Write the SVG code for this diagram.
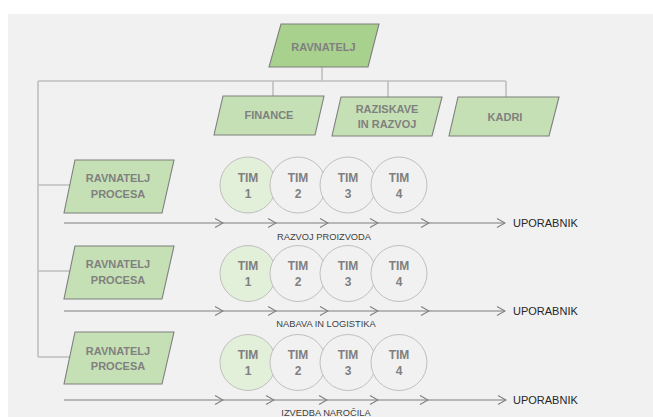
<svg xmlns="http://www.w3.org/2000/svg" width="653" height="417" viewBox="0 0 653 417">
  <defs>
    <marker id="chev" viewBox="0 0 10 10" refX="9" refY="5" markerWidth="10" markerHeight="10" markerUnits="userSpaceOnUse" orient="auto">
      <path d="M1,0.5 L9,5 L1,9.5" fill="none" stroke="#7f7f7f" stroke-width="1.1"/>
    </marker>
    <style>
      .org { fill: none; stroke: #bfbfbf; stroke-width: 1.6; }
      .flow { stroke: #7f7f7f; stroke-width: 1.1; marker-end: url(#chev); }
      .head { fill: #a9d18e; stroke: #7f7f7f; stroke-width: 1.1; }
      .dept { fill: #c5e0b4; stroke: #7f7f7f; stroke-width: 1.1; }
      .lbl { font-family: "Liberation Sans", Arial, sans-serif; font-weight: bold; font-size: 11px; fill: #808080; text-anchor: middle; }
      .tim { fill: #f1f1f1; stroke: #bfbfbf; stroke-width: 1; }
      .tim1 { fill: #e2efd9; stroke: #bfbfbf; stroke-width: 1; }
      .timtxt { font-family: "Liberation Sans", Arial, sans-serif; font-weight: bold; font-size: 12px; fill: #808080; text-anchor: middle; }
      .user { font-family: "Liberation Sans", Arial, sans-serif; font-size: 11px; fill: #262626; }
      .proc { font-family: "Liberation Sans", Arial, sans-serif; font-size: 9.3px; fill: #404040; text-anchor: middle; }
    </style>
  </defs>

  <!-- canvas -->
  <rect x="8" y="14" width="645" height="403" fill="#f1f1f1"/>

  <!-- connectors -->
  <g id="connectors">
    <path class="org" d="M322,67 V81 M38,81 H506 M273,81 V96 M388,81 V97 M506,81 V97"/>
    <path class="org" d="M38,81 V357 M38,185 H70 M38,271 H70 M38,357 H70"/>
    <g id="flow1">
      <line class="flow" x1="64" y1="223" x2="223" y2="223"/>
      <line class="flow" x1="223" y1="223" x2="276" y2="223"/>
      <line class="flow" x1="276" y1="223" x2="328" y2="223"/>
      <line class="flow" x1="328" y1="223" x2="378" y2="223"/>
      <line class="flow" x1="378" y1="223" x2="429" y2="223"/>
      <line class="flow" x1="429" y1="223" x2="505" y2="223"/>
    </g>
    <g id="flow2">
      <line class="flow" x1="64" y1="311" x2="223" y2="311"/>
      <line class="flow" x1="223" y1="311" x2="276" y2="311"/>
      <line class="flow" x1="276" y1="311" x2="328" y2="311"/>
      <line class="flow" x1="328" y1="311" x2="378" y2="311"/>
      <line class="flow" x1="378" y1="311" x2="429" y2="311"/>
      <line class="flow" x1="429" y1="311" x2="505" y2="311"/>
    </g>
    <g id="flow3">
      <line class="flow" x1="64" y1="400" x2="223" y2="400"/>
      <line class="flow" x1="223" y1="400" x2="274" y2="400"/>
      <line class="flow" x1="274" y1="400" x2="327" y2="400"/>
      <line class="flow" x1="327" y1="400" x2="378" y2="400"/>
      <line class="flow" x1="378" y1="400" x2="428" y2="400"/>
      <line class="flow" x1="428" y1="400" x2="506" y2="400"/>
    </g>
  </g>

  <!-- management -->
  <g id="ravnatelj">
    <polygon class="head" points="281,24 379,24 368,67 269,67"/>
    <text class="lbl" x="323.5" y="51" font-size="11.5">RAVNATELJ</text>
  </g>
  <g id="finance">
    <polygon class="dept" points="223,96 324,96 315,135 214,135"/>
    <text class="lbl" x="269" y="119">FINANCE</text>
  </g>
  <g id="raziskave">
    <polygon class="dept" points="341,97 442,97 432,136 332,136"/>
    <text class="lbl" x="387" y="113">RAZISKAVE</text>
    <text class="lbl" x="387" y="128">IN RAZVOJ</text>
  </g>
  <g id="kadri">
    <polygon class="dept" points="458,97 559,97 549,136 449,136"/>
    <text class="lbl" x="505" y="121">KADRI</text>
  </g>

  <!-- process row 1 -->
  <g id="proces1">
    <polygon class="dept" points="75,160 174,160 162,213 64,213"/>
    <text class="lbl" x="118" y="182">RAVNATELJ</text>
    <text class="lbl" x="118" y="198">PROCESA</text>
  </g>
  <g id="row1-tim1"><circle class="tim1" cx="248" cy="185" r="28"/><text class="timtxt" x="248" y="182">TIM</text><text class="timtxt" x="248" y="198">1</text></g>
  <g id="row1-tim2"><circle class="tim" cx="298" cy="185" r="28"/><text class="timtxt" x="298" y="182">TIM</text><text class="timtxt" x="298" y="198">2</text></g>
  <g id="row1-tim3"><circle class="tim" cx="348" cy="185" r="28"/><text class="timtxt" x="348" y="182">TIM</text><text class="timtxt" x="348" y="198">3</text></g>
  <g id="row1-tim4"><circle class="tim" cx="399" cy="185" r="28"/><text class="timtxt" x="399" y="182">TIM</text><text class="timtxt" x="399" y="198">4</text></g>
  <g id="row1-user"><text class="user" x="513" y="227">UPORABNIK</text></g>
  <text class="proc" x="324" y="240">RAZVOJ PROIZVODA</text>

  <!-- process row 2 -->
  <g id="proces2">
    <polygon class="dept" points="75,246 174,246 162,299 64,299"/>
    <text class="lbl" x="118" y="268">RAVNATELJ</text>
    <text class="lbl" x="118" y="284">PROCESA</text>
  </g>
  <g id="row2-tim1"><circle class="tim1" cx="248" cy="273.5" r="28"/><text class="timtxt" x="248" y="270">TIM</text><text class="timtxt" x="248" y="286">1</text></g>
  <g id="row2-tim2"><circle class="tim" cx="298" cy="273.5" r="28"/><text class="timtxt" x="298" y="270">TIM</text><text class="timtxt" x="298" y="286">2</text></g>
  <g id="row2-tim3"><circle class="tim" cx="348" cy="273.5" r="28"/><text class="timtxt" x="348" y="270">TIM</text><text class="timtxt" x="348" y="286">3</text></g>
  <g id="row2-tim4"><circle class="tim" cx="399" cy="273.5" r="28"/><text class="timtxt" x="399" y="270">TIM</text><text class="timtxt" x="399" y="286">4</text></g>
  <g id="row2-user"><text class="user" x="513" y="315">UPORABNIK</text></g>
  <text class="proc" x="326" y="327">NABAVA IN LOGISTIKA</text>

  <!-- process row 3 -->
  <g id="proces3">
    <polygon class="dept" points="75,332 174,332 162,384 64,384"/>
    <text class="lbl" x="118" y="355">RAVNATELJ</text>
    <text class="lbl" x="118" y="370">PROCESA</text>
  </g>
  <g id="row3-tim1"><circle class="tim1" cx="248" cy="362.5" r="28"/><text class="timtxt" x="248" y="359">TIM</text><text class="timtxt" x="248" y="375">1</text></g>
  <g id="row3-tim2"><circle class="tim" cx="298" cy="362.5" r="28"/><text class="timtxt" x="298" y="359">TIM</text><text class="timtxt" x="298" y="375">2</text></g>
  <g id="row3-tim3"><circle class="tim" cx="348" cy="362.5" r="28"/><text class="timtxt" x="348" y="359">TIM</text><text class="timtxt" x="348" y="375">3</text></g>
  <g id="row3-tim4"><circle class="tim" cx="399" cy="362.5" r="28"/><text class="timtxt" x="399" y="359">TIM</text><text class="timtxt" x="399" y="375">4</text></g>
  <g id="row3-user"><text class="user" x="513" y="404">UPORABNIK</text></g>
  <text class="proc" x="326" y="416">IZVEDBA NAROČILA</text>
</svg>
